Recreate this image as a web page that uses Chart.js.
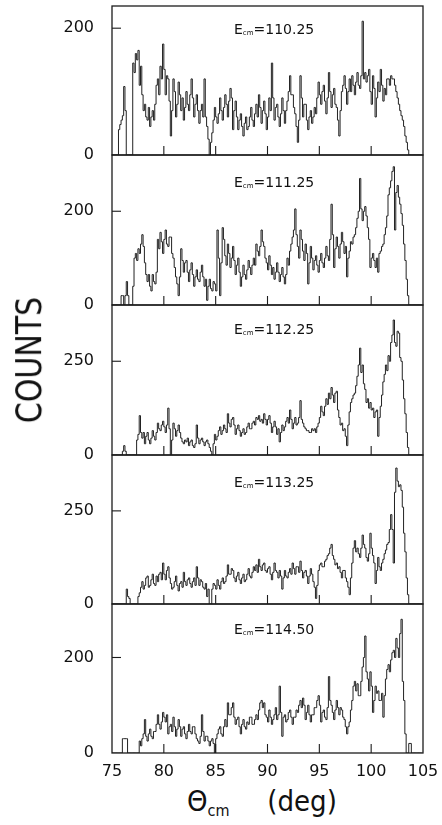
<!DOCTYPE html>
<html><head><meta charset="utf-8">
<script src="https://cdn.jsdelivr.net/npm/chart.js@4.4.0/dist/chart.umd.min.js"></script>
<style>
html,body{margin:0;padding:0;background:#fff;}
#wrap{position:relative;width:442px;height:825px;overflow:hidden;background:#fff;font-family:'DejaVu Sans',sans-serif;color:#111;}
#wrap canvas{position:absolute;left:0;}
.ann{position:absolute;left:234px;font-size:14px;line-height:16px;white-space:nowrap;}
.ann sub{font-size:7px;vertical-align:-1px;line-height:0;}
#ylab{position:absolute;left:29.5px;top:360px;font-size:30px;line-height:30px;white-space:nowrap;transform:translate(-50%,-50%) rotate(-90deg) scaleY(1.16);}
#xlab{position:absolute;left:187px;top:787px;font-size:29px;line-height:29px;white-space:nowrap;transform:scaleX(0.9);transform-origin:left top;}
#xlab sub{font-size:16px;vertical-align:-5px;line-height:0;}
</style></head>
<body><div id="wrap"></div>
<script>
// ---- categories: histogram bins of theta_cm (deg) ----
const thetaStart = 75.0;
const thetaBinWidth = 0.125;
const xTickValues = [75, 80, 85, 90, 95, 100, 105];

// ---- panel labels ----
const energyLabels = ['110.25', '111.25', '112.25', '113.25', '114.50'];

// ---- counts per bin ----
const countsE11025 = [
  0,0,0,0,0,0,40,48,55,62,
  108,70,0,0,0,0,0,145,130,160,
  150,165,110,140,95,70,80,60,55,75,
  45,60,70,55,80,110,120,95,140,120,
  175,135,95,125,120,85,30,70,120,100,
  60,80,115,95,70,90,55,75,100,80,
  70,95,120,90,60,80,95,70,50,70,
  80,60,120,60,45,25,0,20,35,55,
  75,60,50,65,90,70,55,75,95,80,
  60,85,105,90,40,70,85,60,40,55,
  65,45,30,50,60,40,45,60,75,55,
  45,65,80,60,95,75,50,70,85,65,
  40,60,90,70,145,90,55,75,80,60,
  45,65,90,70,50,70,85,100,125,95,
  95,75,65,45,20,55,125,90,60,80,
  80,55,40,60,70,50,60,75,65,90,
  115,95,80,100,110,85,65,90,130,100,
  75,95,105,80,75,55,30,70,100,110,
  125,105,80,100,120,100,125,110,95,115,
  130,110,105,125,211,120,130,115,125,135,
  100,80,125,105,60,90,115,100,135,110,
  85,105,95,120,120,110,125,120,120,110,
  100,90,80,70,62,55,45,30,20,8,
  0,0,0,0,0,0,0,0,0,0
];
const countsE11125 = [
  0,0,0,0,0,0,0,0,20,20,
  0,20,50,20,0,0,0,40,100,110,
  95,120,110,130,150,125,90,65,50,65,
  40,30,65,50,45,70,140,120,155,135,
  110,140,160,130,125,145,145,110,100,80,
  60,45,20,60,120,95,70,90,95,70,
  50,75,90,65,40,60,75,55,50,70,
  85,60,40,55,10,40,55,35,30,50,
  45,30,160,100,20,90,165,140,105,85,
  130,110,80,100,125,95,65,85,100,70,
  40,60,85,65,55,75,95,80,65,85,
  100,85,130,115,105,125,160,135,125,100,
  90,75,105,85,65,80,55,70,90,70,
  50,65,80,60,45,65,100,85,115,130,
  145,160,205,150,125,100,160,140,115,95,
  130,110,45,90,125,100,75,95,105,85,
  70,95,110,90,80,100,125,105,95,140,
  215,150,80,120,145,125,100,130,155,135,
  110,125,60,100,115,135,130,145,150,165,
  185,200,270,205,180,200,210,190,165,140,
  80,100,110,95,80,100,70,110,115,125,
  130,150,165,190,235,250,265,285,295,160,
  240,255,230,215,195,170,130,95,55,20,
  0,0,0,0,0,0,0,0,0,0
];
const countsE11225 = [
  0,0,0,0,0,0,0,0,0,10,
  25,10,0,0,0,0,0,0,0,0,
  40,55,105,60,45,60,30,50,60,40,
  30,45,65,50,40,60,85,70,65,80,
  90,75,60,80,125,70,0,40,85,70,
  50,65,80,60,45,35,30,40,35,45,
  25,35,40,25,20,30,80,45,30,40,
  45,35,25,35,40,30,20,10,0,30,
  55,40,50,65,75,55,65,80,70,60,
  110,85,75,95,100,80,55,70,80,65,
  50,60,70,55,60,75,85,70,70,85,
  90,80,100,95,105,90,95,85,110,95,
  80,95,105,85,60,75,90,75,55,70,
  35,60,80,65,75,90,100,85,120,95,
  70,85,100,80,85,100,145,95,85,75,
  70,65,65,60,60,70,65,70,60,75,
  85,100,130,115,105,130,150,135,165,150,
  180,160,140,165,170,120,100,80,85,65,
  70,50,25,80,115,140,150,160,165,185,
  210,240,285,220,240,190,175,140,150,125,
  140,120,125,100,115,120,50,100,130,160,
  195,215,240,225,265,250,300,320,360,300,
  290,330,325,260,250,200,150,110,60,20,
  0,0,0,0,0,0,0,0,0,0
];
const countsE11325 = [
  0,0,0,0,0,0,0,0,0,0,
  0,0,40,20,15,0,0,0,0,0,
  0,20,30,45,60,40,50,70,75,45,
  50,65,80,55,50,75,60,80,85,65,
  110,80,65,90,100,70,55,40,45,60,
  75,50,35,55,60,45,85,60,50,65,
  70,55,45,60,70,50,100,70,50,65,
  60,45,40,55,20,40,0,0,40,55,
  50,40,65,50,40,60,70,55,60,75,
  105,80,80,95,90,70,60,75,85,65,
  55,70,80,60,65,80,95,75,70,85,
  100,90,105,85,120,100,90,105,110,90,
  85,95,100,80,65,85,110,90,85,70,
  90,75,40,70,90,75,70,85,95,80,
  110,95,80,100,100,85,115,90,70,85,
  90,75,55,75,95,80,60,45,15,50,
  90,105,110,100,100,115,120,130,135,150,
  160,130,120,105,110,95,100,85,70,90,
  90,70,60,45,25,70,110,150,170,140,
  150,135,125,150,185,160,150,125,115,135,
  190,150,130,110,55,90,125,100,90,110,
  120,135,145,160,165,200,240,200,110,300,
  365,330,315,320,305,260,190,140,70,25,
  0,0,0,0,0,0,0,0,0,0
];
const countsE11450 = [
  0,0,0,0,0,0,0,0,0,30,
  30,30,30,0,0,0,0,0,0,0,
  0,0,25,15,30,40,70,35,25,40,
  50,35,30,45,45,60,80,60,50,65,
  85,75,65,80,40,55,60,45,75,55,
  35,50,70,55,35,50,55,40,30,45,
  60,45,40,55,55,40,30,25,20,35,
  80,45,25,35,35,25,15,25,30,20,
  0,30,40,50,55,40,35,55,70,55,
  105,80,80,95,105,75,60,70,75,55,
  40,60,70,55,50,65,60,75,75,60,
  60,70,80,70,90,105,110,95,105,80,
  75,65,90,75,60,70,80,95,70,80,
  140,85,35,75,80,65,70,85,90,75,
  60,75,75,90,85,100,110,95,115,100,
  70,85,100,80,65,80,80,95,95,110,
  120,100,65,85,90,75,70,95,160,110,
  100,85,70,90,110,95,80,95,90,75,
  70,55,40,55,65,90,110,140,150,130,
  145,120,120,150,180,200,245,170,155,130,
  170,140,85,110,140,125,130,110,110,125,
  75,120,155,175,185,170,195,210,215,200,
  240,220,200,250,280,150,110,40,0,0,
  20,20,0,0,0,0,0,0,0,0
];

// ---- y tick labels and axis ranges per panel ----
const yTicksE11025 = [0, 200];
const yTicksE11125 = [0, 200];
const yTicksE11225 = [0, 250];
const yTicksE11325 = [0, 250];
const yTicksE11450 = [0, 200];
const yAxisMax = [235, 320, 400, 400, 312];

const panelCounts = [countsE11025, countsE11125, countsE11225, countsE11325, countsE11450];
const panelYTicks = [yTicksE11025, yTicksE11125, yTicksE11225, yTicksE11325, yTicksE11450];

// ---- layout ----
const AREA_LEFT = 112, AREA_RIGHT = 423;
const panelTop = [6, 155, 305, 455, 604];
const panelBottom = [155, 305, 455, 604, 753];
const annBaseline = [34, 187, 334, 487, 634];
const PAD = 14;
const XAXIS_H = 30;

Chart.defaults.font.family = "'DejaVu Sans', sans-serif";
Chart.defaults.color = '#111';

const framePlugin = {
  id: 'frame',
  afterDraw(chart) {
    const {ctx, chartArea: {left, top, right, bottom}, scales: {x, y}} = chart;
    ctx.save();
    ctx.strokeStyle = '#1c1c1c';
    ctx.lineWidth = 1.3;
    ctx.strokeRect(left, top, right - left, bottom - top);
    ctx.lineWidth = 1.1;
    x.ticks.forEach(t => {
      const px = x.getPixelForValue(t.value);
      if (px > left + 1 && px < right - 1) {
        ctx.beginPath(); ctx.moveTo(px, bottom); ctx.lineTo(px, bottom - 9); ctx.stroke();
      }
    });
    y.ticks.forEach(t => {
      const py = y.getPixelForValue(t.value);
      if (py < bottom - 1 && py > top + 1) {
        ctx.beginPath(); ctx.moveTo(left, py); ctx.lineTo(left + 9, py); ctx.stroke();
      }
    });
    ctx.restore();
  }
};

const wrap = document.getElementById('wrap');

function makeChart(cv, i, w, h) {
  const last = i === panelCounts.length - 1;
  cv.width = w; cv.height = h;
  cv.style.width = w + 'px'; cv.style.height = h + 'px';
  const counts = panelCounts[i];
  const pts = counts.map((v, k) => ({x: thetaStart + k * thetaBinWidth, y: v}));
  const yt = panelYTicks[i];
  return new Chart(cv, {
    type: 'line',
    data: {datasets: [{
      data: pts, stepped: 'after', borderColor: '#222', borderWidth: 1,
      pointRadius: 0, fill: false, tension: 0
    }]},
    options: {
      responsive: false, maintainAspectRatio: false, animation: false, devicePixelRatio: 1, events: [],
      layout: {padding: {left: 0, right: 19, top: PAD, bottom: last ? 0 : PAD}},
      plugins: {legend: {display: false}, tooltip: {enabled: false}},
      scales: {
        x: {
          type: 'linear', min: 75, max: 105,
          afterBuildTicks: s => { s.ticks = xTickValues.map(v => ({value: v})); },
          afterFit: s => { s.height = last ? XAXIS_H : 0; },
          grid: {display: false, drawTicks: true, tickLength: 9},
          border: {display: false},
          ticks: {display: last, font: {size: 16}, padding: 0, color: '#111', maxRotation: 0, autoSkip: false}
        },
        y: {
          min: 0, max: yAxisMax[i],
          afterBuildTicks: s => { s.ticks = yt.map(v => ({value: v})); },
          afterFit: s => { s.width = AREA_LEFT; },
          grid: {display: false, drawTicks: true, tickLength: 18},
          border: {display: false},
          ticks: {font: {size: 16}, padding: 0, color: '#111'}
        }
      }
    },
    plugins: [framePlugin]
  });
}

panelCounts.forEach((counts, i) => {
  const last = i === panelCounts.length - 1;
  const cv = document.createElement('canvas');
  wrap.appendChild(cv);
  const wantH = panelBottom[i] - panelTop[i];
  const wantW = AREA_RIGHT - AREA_LEFT;
  let w = 442, h = wantH + PAD + (last ? XAXIS_H : PAD);
  let chart = makeChart(cv, i, w, h);
  let ca = chart.chartArea;
  const dh = wantH - (ca.bottom - ca.top);
  const dw = wantW - (ca.right - ca.left);
  if (Math.abs(dh) > 0.01 || Math.abs(dw) > 0.01) {
    chart.destroy();
    w += dw; h += dh;
    chart = makeChart(cv, i, w, h);
    ca = chart.chartArea;
  }
  cv.style.top = (panelTop[i] - ca.top) + 'px';
  cv.style.left = (AREA_LEFT - ca.left) + 'px';

  const ann = document.createElement('div');
  ann.className = 'ann';
  ann.style.top = (annBaseline[i] - 13) + 'px';
  ann.innerHTML = 'E<sub>cm</sub>=' + energyLabels[i];
  wrap.appendChild(ann);
});

const ylab = document.createElement('div');
ylab.id = 'ylab'; ylab.textContent = 'COUNTS';
wrap.appendChild(ylab);

const xlab = document.createElement('div');
xlab.id = 'xlab';
xlab.innerHTML = 'Θ<sub>cm</sub><span style="margin-left:42px">(deg)</span>';
wrap.appendChild(xlab);
</script>
</body></html>
